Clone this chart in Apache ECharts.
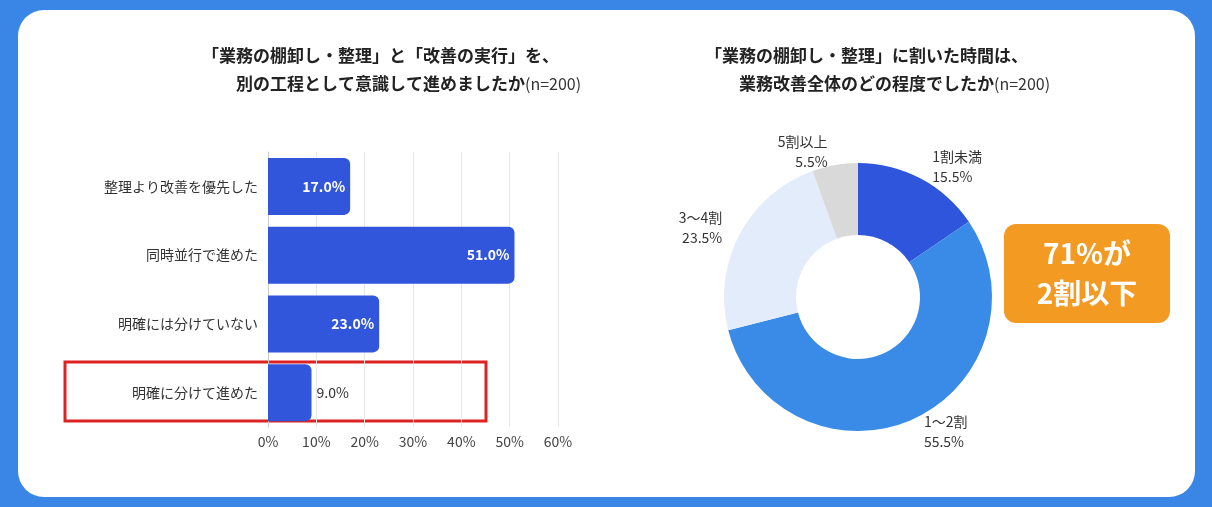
<!DOCTYPE html>
<html style="height: 100%">
<head>
<meta charset="utf-8">
<script src="https://cdn.jsdelivr.net/npm/echarts@6/dist/echarts.min.js"></script>
</head>
<body style="height:100%;margin:0;background:#3a86e6;overflow:hidden">
<div style="position:absolute;left:18px;top:10px;width:1177px;height:487px;background:#fff;border-radius:26px"></div>
<div id="container" style="position:absolute;left:0;top:0;width:1212px;height:507px"></div>
<script>
var barCats = ['整理より改善を優先した', '同時並行で進めた', '明確には分けていない', '明確に分けて進めた'];
var barValues = [17.0, 51.0, 23.0, 9.0];
var xTicks = [0, 10, 20, 30, 40, 50, 60];
var pieNames = ['1割未満', '1～2割', '3～4割', '5割以上'];
var pieValues = [15.5, 55.5, 23.5, 5.5];
var pieColors = ['#2f55dc', '#3a8ae8', '#e2ecfa', '#d9d9d9'];

var font = '"Noto Sans CJK JP", sans-serif';
var chart = echarts.init(document.getElementById('container'));
var barData = barValues.map(function (v, i) {
	var last = i == barValues.length - 1;
	return {
		value: v,
		label: last ? { position: 'right', color: '#333', fontWeight: 'normal' } : {}
	};
});
var pieData = pieValues.map(function (v, i) {
	return { name: pieNames[i], value: v, itemStyle: { color: pieColors[i] } };
});

chart.setOption({
	textStyle: { fontFamily: font },
	title: [{
		text: '「業務の棚卸し・整理」と「改善の実行」を、\n　　別の工程として意識して進めましたか{s|(n=200)}',
		left: 197, top: 37,
		textStyle: { fontSize: 17, fontWeight: 'bold', color: '#222', lineHeight: 28, fontFamily: font, rich: { s: { fontSize: 16, fontWeight: 'normal', color: '#333' } } }
	}, {
		text: '「業務の棚卸し・整理」に割いた時間は、\n　　業務改善全体のどの程度でしたか{s|(n=200)}',
		left: 700, top: 37,
		textStyle: { fontSize: 17, fontWeight: 'bold', color: '#222', lineHeight: 28, fontFamily: font, rich: { s: { fontSize: 16, fontWeight: 'normal', color: '#333' } } }
	}],
	grid: { left: 268, right: 654, top: 152, bottom: 80 },
	xAxis: {
		type: 'value', min: 0, max: 60, interval: 10,
		axisLabel: { formatter: '{value}%', color: '#444', fontSize: 14 },
		splitLine: { lineStyle: { color: '#e8e8e8' } }
	},
	yAxis: {
		type: 'category', data: barCats, inverse: true,
		axisTick: { show: false },
		axisLine: { lineStyle: { color: '#ccc' } },
		axisLabel: { color: '#333', fontSize: 14, margin: 10 }
	},
	series: [{
		type: 'bar', data: barData, barWidth: 57,
		itemStyle: { color: '#3156dc', borderRadius: [0, 6, 6, 0] },
		label: { show: true, position: 'insideRight', color: '#fff', fontWeight: 'bold', fontSize: 14, formatter: function (p) { return p.value.toFixed(1) + '%'; } }
	}, {
		type: 'pie', center: [858, 297], radius: [62, 134], startAngle: 90,
		data: pieData,
		label: { show: true, position: 'outside', align: 'center', color: '#333', fontSize: 14, lineHeight: 20, formatter: function (p) { return p.name + '\n' + p.value.toFixed(1) + '%'; } },
		labelLine: { show: false, length: 14, length2: 0 }
	}],
	graphic: [{
		type: 'rect', shape: { x: 65, y: 362, width: 421, height: 59 },
		style: { fill: 'none', stroke: '#d22', lineWidth: 3 }
	}, {
		type: 'rect', shape: { x: 1004, y: 224, width: 166, height: 99, r: 12 },
		style: { fill: '#f39a23' }
	}, {
		type: 'text', x: 1087, y: 273,
		style: { text: '71%が\n2割以下', fill: '#fff', fontSize: 28, fontWeight: 'bold', lineHeight: 40, align: 'center', verticalAlign: 'middle', fontFamily: font }
	}]
});
</script>
</body>
</html>
